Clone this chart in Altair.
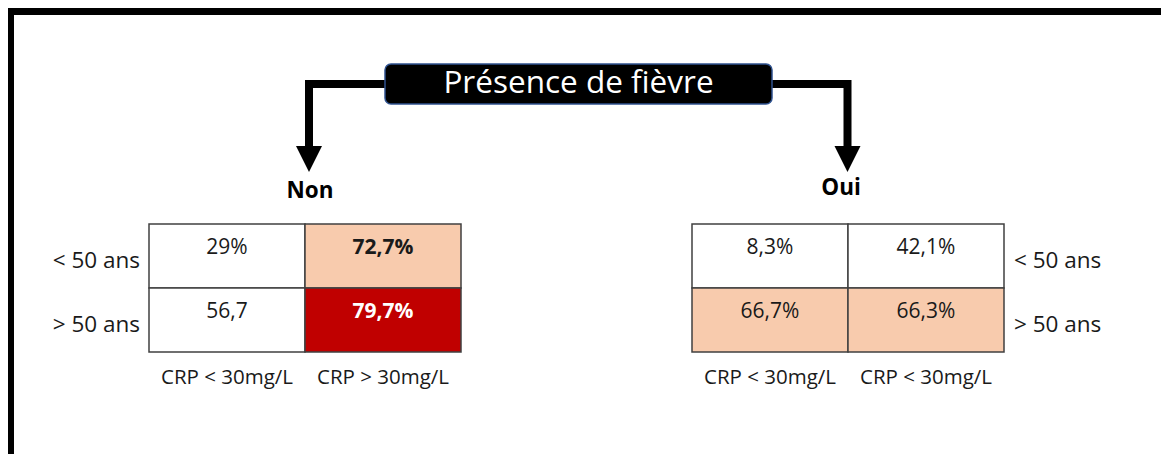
import altair as alt
import pandas as pd

# ---------------- data ----------------
title_text = "Présence de fièvre"
panels = ["Non", "Oui"]
age_groups = ["< 50 ans", "> 50 ans"]
crp_labels_non = ["CRP < 30mg/L", "CRP > 30mg/L"]
crp_labels_oui = ["CRP < 30mg/L", "CRP < 30mg/L"]
# row-major: [<50 & col1, <50 & col2, >50 & col1, >50 & col2]
values_non = ["29%", "72,7%", "56,7", "79,7%"]
values_oui = ["8,3%", "42,1%", "66,7%", "66,3%"]
levels_non = ["none", "light", "none", "dark"]
levels_oui = ["none", "none", "light", "light"]
bold_non = [False, True, False, True]
bold_oui = [False, False, False, False]

# ---------------- layout / style ----------------
W, H = 1153, 446
FONT = "Open Sans"
level_fill = {"none": "#FFFFFF", "light": "#F8CBAD", "dark": "#C00000"}
level_text = {"none": "#1A1A1A", "light": "#1A1A1A", "dark": "#FFFFFF"}
panel_left = {"Non": 141, "Oui": 684}
panel_label_x = {"Non": 302, "Oui": 833}
panel_label_y = {"Non": 183, "Oui": 180}
cell_w, cell_h, grid_top = 156, 64, 216
text_dy = 24
box = dict(x=377, x2=764, y=56, y2=96)
line_y = 76
stem_x = {"Non": 301, "Oui": 839.5}
stem_end = 140
head_y = 151

xs = alt.Scale(domain=[0, W], nice=False, zero=False)
ys = alt.Scale(domain=[0, H], nice=False, zero=False, reverse=True)

# ---------------- tables ----------------
cells, rowlab, collab, heads = [], [], [], []
panel_data = {
    "Non": (values_non, levels_non, bold_non, crp_labels_non),
    "Oui": (values_oui, levels_oui, bold_oui, crp_labels_oui),
}
for p in panels:
    vals, levs, bolds, crps = panel_data[p]
    left = panel_left[p]
    for r in range(2):
        for c in range(2):
            k = r * 2 + c
            x0 = left + c * cell_w
            y0 = grid_top + r * cell_h
            cells.append(dict(panel=p, x=x0, x2=x0 + cell_w, y=y0, y2=y0 + cell_h,
                              xc=x0 + cell_w / 2, yt=y0 + text_dy,
                              fill=level_fill[levs[k]], tcol=level_text[levs[k]],
                              label=vals[k], bold=bolds[k]))
    for r, a in enumerate(age_groups):
        yc = grid_top + r * cell_h + cell_h / 2 + 5
        if p == "Non":
            rowlab.append(dict(side="right", x=left - 9, y=yc, label=a))
        else:
            rowlab.append(dict(side="left", x=left + 2 * cell_w + 10, y=yc, label=a))
    for c, lab in enumerate(crps):
        collab.append(dict(x=left + c * cell_w + cell_w / 2, y=grid_top + 2 * cell_h + 26, label=lab))
    heads.append(dict(panel=p, x=panel_label_x[p], y=panel_label_y[p], hx=stem_x[p], hy=head_y))

cells = pd.DataFrame(cells)
rowlab = pd.DataFrame(rowlab)
collab = pd.DataFrame(collab)
heads = pd.DataFrame(heads)

conn = pd.DataFrame([
    dict(side="Non", i=0, x=box["x"] + 2, y=line_y),
    dict(side="Non", i=1, x=stem_x["Non"], y=line_y),
    dict(side="Non", i=2, x=stem_x["Non"], y=stem_end),
    dict(side="Oui", i=0, x=box["x2"] - 2, y=line_y),
    dict(side="Oui", i=1, x=stem_x["Oui"], y=line_y),
    dict(side="Oui", i=2, x=stem_x["Oui"], y=stem_end),
])
boxdf = pd.DataFrame([dict(box, xc=(box["x"] + box["x2"]) / 2, yc=(box["y"] + box["y2"]) / 2, label=title_text)])
frame = pd.DataFrame([
    dict(x=0, x2=W, y=0, y2=7),
    dict(x=0, x2=6, y=0, y2=H),
])

X = lambda f: alt.X(f, scale=xs, axis=None)
Y = lambda f: alt.Y(f, scale=ys, axis=None)

frame_l = alt.Chart(frame).mark_rect(color="#000000").encode(x=X("x:Q"), x2="x2:Q", y=Y("y:Q"), y2="y2:Q")

cell_l = alt.Chart(cells).mark_rect(stroke="#404040", strokeWidth=1.5).encode(
    x=X("x:Q"), x2="x2:Q", y=Y("y:Q"), y2="y2:Q", fill=alt.Fill("fill:N", scale=None))

val_norm = alt.Chart(cells).transform_filter("!datum.bold").mark_text(
    font=FONT, fontSize=21, baseline="middle", align="center").encode(
    x=X("xc:Q"), y=Y("yt:Q"), text="label:N", color=alt.Color("tcol:N", scale=None))
val_bold = alt.Chart(cells).transform_filter("datum.bold").mark_text(
    font=FONT, fontSize=21, fontWeight="bold", baseline="middle", align="center").encode(
    x=X("xc:Q"), y=Y("yt:Q"), text="label:N", color=alt.Color("tcol:N", scale=None))

row_r = alt.Chart(rowlab).transform_filter("datum.side == 'right'").mark_text(
    font=FONT, fontSize=22.5, baseline="middle", align="right", color="#1A1A1A").encode(
    x=X("x:Q"), y=Y("y:Q"), text="label:N")
row_l = alt.Chart(rowlab).transform_filter("datum.side == 'left'").mark_text(
    font=FONT, fontSize=22.5, baseline="middle", align="left", color="#1A1A1A").encode(
    x=X("x:Q"), y=Y("y:Q"), text="label:N")

col_l = alt.Chart(collab).mark_text(
    font=FONT, fontSize=20.5, baseline="middle", align="center", color="#1A1A1A").encode(
    x=X("x:Q"), y=Y("y:Q"), text="label:N")

panel_l = alt.Chart(heads).mark_text(
    font=FONT, fontSize=22.5, fontWeight="bold", baseline="middle", align="center", color="#000000").encode(
    x=X("x:Q"), y=Y("y:Q"), text="panel:N")

conn_l = alt.Chart(conn).mark_line(color="#000000", strokeWidth=8, strokeJoin="miter", strokeCap="butt").encode(
    x=X("x:Q"), y=Y("y:Q"), detail="side:N", order="i:Q")

head_l = alt.Chart(heads).mark_point(
    shape="M-1,-1L1,-1L0,1Z", size=676, filled=True, color="#000000", opacity=1).encode(
    x=X("hx:Q"), y=Y("hy:Q"))

box_l = alt.Chart(boxdf).mark_rect(
    fill="#000000", stroke="#2F528F", strokeWidth=1.5, cornerRadius=6).encode(
    x=X("x:Q"), x2="x2:Q", y=Y("y:Q"), y2="y2:Q")
box_t = alt.Chart(boxdf).mark_text(
    font=FONT, fontSize=31.5, baseline="middle", align="center", color="#FFFFFF").encode(
    x=X("xc:Q"), y=Y("yc:Q"), text="label:N")

chart = alt.layer(
    frame_l, conn_l, head_l, box_l, box_t, panel_l,
    cell_l, val_norm, val_bold, row_r, row_l, col_l,
).properties(
    width=W, height=H, padding=0, autosize=alt.AutoSizeParams(type="none"),
    background="#FFFFFF",
).configure_view(stroke=None)

chart.save("out.html", embed_options={"renderer": "svg", "actions": False})
